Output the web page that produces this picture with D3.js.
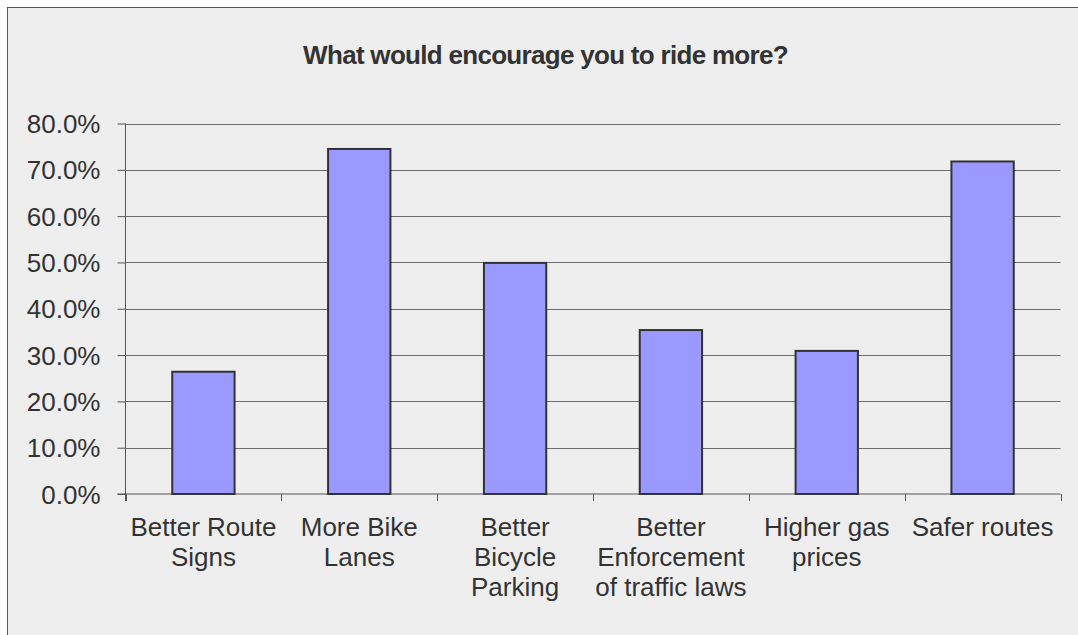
<!DOCTYPE html>
<html>
<head>
<meta charset="utf-8">
<script src="https://cdn.jsdelivr.net/npm/d3@7"></script>
<style>
  html, body { margin: 0; padding: 0; background: #ffffff; }
  svg { display: block; }
</style>
</head>
<body>
<svg id="chart" width="1078" height="635"></svg>
<script>
const title = "What would encourage you to ride more?";
const categories = [
  "Better Route Signs",
  "More Bike Lanes",
  "Better Bicycle Parking",
  "Better Enforcement of traffic laws",
  "Higher gas prices",
  "Safer routes"
];
const categoryLines = [
  ["Better Route", "Signs"],
  ["More Bike", "Lanes"],
  ["Better", "Bicycle", "Parking"],
  ["Better", "Enforcement", "of traffic laws"],
  ["Higher gas", "prices"],
  ["Safer routes"]
];
const values = [26.4, 74.5, 49.9, 35.4, 30.9, 71.8];
const yTicks = [0, 10, 20, 30, 40, 50, 60, 70, 80];

const svg = d3.select("#chart");
const W = 1078, H = 635;
const plot = { left: 125.5, right: 1060.5, top: 123.5, bottom: 494 };
const font = "'Liberation Sans', Arial, sans-serif";
const textColor = "#333333";

// background frame
svg.append("rect")
  .attr("x", 7.5).attr("y", 7.5)
  .attr("width", W + 10).attr("height", H + 10)
  .attr("fill", "#eeeeee")
  .attr("stroke", "#555555").attr("stroke-width", 1);

// title
svg.append("text")
  .attr("x", 545.5).attr("y", 64)
  .attr("text-anchor", "middle")
  .attr("font-family", font)
  .attr("font-size", 26)
  .attr("font-weight", "bold")
  .attr("letter-spacing", "-0.7px")
  .attr("fill", textColor)
  .text(title);

const x = d3.scaleBand()
  .domain(categories)
  .range([plot.left, plot.right])
  .paddingInner(0.6)
  .paddingOuter(0.3);

const y = d3.scaleLinear()
  .domain([0, 80])
  .range([plot.bottom, plot.top]);

// gridlines
svg.append("g")
  .selectAll("line")
  .data(yTicks.filter(d => d > 0))
  .join("line")
  .attr("x1", plot.left).attr("x2", plot.right)
  .attr("y1", d => Math.round(y(d)) + 0.5)
  .attr("y2", d => Math.round(y(d)) + 0.5)
  .attr("stroke", "#6e6e6e")
  .attr("stroke-width", 1.2);

// y axis
const yAxis = d3.axisLeft(y)
  .tickValues(yTicks)
  .tickSize(8)
  .tickPadding(17)
  .tickFormat(d => d3.format(".1%")(d / 100));

const gy = svg.append("g")
  .attr("transform", `translate(${plot.left},0)`)
  .call(yAxis);
gy.select(".domain").attr("stroke", "#555555").attr("d", `M0,${plot.top}V${plot.bottom + 7}`);
gy.selectAll(".tick line").attr("stroke", "#555555");
gy.selectAll(".tick text")
  .attr("font-family", font)
  .attr("font-size", 26)
  .attr("fill", textColor)
  .attr("dy", "0.35em");

// x axis line
svg.append("line")
  .attr("x1", plot.left - 8).attr("x2", plot.right)
  .attr("y1", plot.bottom).attr("y2", plot.bottom)
  .attr("stroke", "#555555").attr("stroke-width", 1.2);

// x tick marks at band boundaries
const step = x.step();
const boundaries = d3.range(categories.length + 1).map(i => plot.left + i * step);
svg.append("g")
  .selectAll("line")
  .data(boundaries)
  .join("line")
  .attr("x1", d => Math.round(d) + 0.5).attr("x2", d => Math.round(d) + 0.5)
  .attr("y1", plot.bottom).attr("y2", plot.bottom + 7)
  .attr("stroke", "#555555").attr("stroke-width", 1);

// bars
svg.append("g")
  .selectAll("rect")
  .data(categories.map((c, i) => ({ c, v: values[i] })))
  .join("rect")
  .attr("x", d => x(d.c))
  .attr("y", d => y(d.v))
  .attr("width", x.bandwidth())
  .attr("height", d => y(0) - y(d.v))
  .attr("fill", "#9999ff")
  .attr("stroke", "#333333")
  .attr("stroke-width", 2);

// category labels
const lab = svg.append("g")
  .selectAll("text")
  .data(categories.map((c, i) => ({ c, lines: categoryLines[i] })))
  .join("text")
  .attr("x", d => x(d.c) + x.bandwidth() / 2)
  .attr("y", 536)
  .attr("text-anchor", "middle")
  .attr("font-family", font)
  .attr("font-size", 26)
  .attr("fill", textColor);
lab.selectAll("tspan")
  .data(d => d.lines.map(l => ({ l, x: x(d.c) + x.bandwidth() / 2 })))
  .join("tspan")
  .attr("x", d => d.x)
  .attr("dy", (d, i) => i === 0 ? 0 : 30)
  .text(d => d.l);
</script>
</body>
</html>
